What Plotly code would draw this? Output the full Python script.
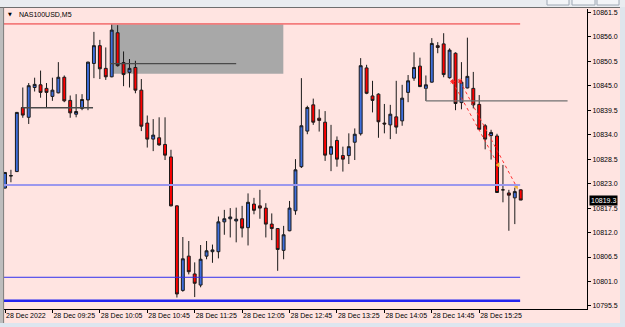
import plotly.graph_objects as go

# ---------------- data ----------------
opens = [10822.0, 10824.7, 10825.7, 10840.1, 10837.9, 10844.6, 10845.2, 10844.4, 10842.6, 10843.4,
         10846.9, 10841.7, 10838.6, 10839.9, 10841.8, 10850.0, 10854.0, 10848.9, 10847.0, 10856.9,
         10850.2, 10848.0, 10849.1, 10844.0, 10836.6, 10833.0, 10833.3, 10831.8, 10829.0, 10818.0,
         10799.0, 10806.7, 10802.7, 10800.2, 10806.7, 10807.7, 10807.7, 10814.4, 10815.1, 10814.6,
         10815.1, 10813.1, 10818.4, 10818.0, 10817.5, 10813.9, 10812.9, 10808.0, 10812.4, 10816.9,
         10826.8, 10834.8, 10840.7, 10837.7, 10836.8, 10829.6, 10832.7, 10829.3, 10829.3, 10832.3,
         10834.2, 10849.0, 10842.7, 10843.1, 10836.6, 10836.2, 10838.0, 10837.1, 10843.5, 10846.7,
         10849.4, 10844.4, 10845.8, 10854.0, 10854.4, 10846.8, 10852.3, 10841.2, 10844.5, 10844.4,
         10840.8, 10836.0, 10833.8, 10833.7, 10821.6, 10820.9, 10819.8, 10821.6]
highs = [10825.6, 10826.1, 10839.1, 10844.6, 10845.6, 10846.8, 10848.4, 10845.6, 10846.8, 10850.3,
         10847.3, 10842.8, 10843.1, 10843.1, 10850.4, 10857.1, 10855.3, 10853.6, 10858.9, 10858.6,
         10852.7, 10851.0, 10850.6, 10846.5, 10838.3, 10837.5, 10837.9, 10837.9, 10830.6, 10818.1,
         10811.0, 10810.1, 10805.3, 10809.2, 10810.1, 10809.3, 10815.6, 10817.1, 10817.5, 10817.6,
         10818.0, 10820.8, 10819.8, 10821.6, 10818.6, 10816.3, 10812.9, 10813.5, 10819.1, 10828.5,
         10846.7, 10840.5, 10842.1, 10839.7, 10839.3, 10836.2, 10833.6, 10831.3, 10834.3, 10835.4,
         10851.2, 10849.7, 10846.1, 10843.3, 10840.9, 10840.7, 10846.1, 10845.2, 10847.4, 10852.5,
         10851.3, 10847.3, 10855.7, 10854.8, 10856.8, 10853.4, 10852.5, 10850.3, 10855.8, 10848.1,
         10842.9, 10836.4, 10835.1, 10834.2, 10827.2, 10821.6, 10822.1, 10821.7]
lows = [10821.9, 10823.3, 10825.6, 10837.8, 10836.4, 10843.7, 10842.3, 10840.1, 10841.6, 10843.3,
        10841.3, 10837.8, 10837.9, 10839.5, 10839.5, 10846.7, 10846.5, 10846.3, 10846.9, 10849.3,
        10844.9, 10844.6, 10843.3, 10834.8, 10831.1, 10830.3, 10831.5, 10828.3, 10817.9, 10797.4,
        10798.7, 10802.6, 10797.5, 10799.7, 10806.0, 10805.2, 10806.2, 10811.5, 10810.9, 10809.8,
        10810.9, 10809.1, 10816.1, 10815.1, 10810.9, 10810.3, 10803.4, 10806.0, 10812.3, 10816.0,
        10826.5, 10834.1, 10836.2, 10834.7, 10828.1, 10825.8, 10826.8, 10825.7, 10827.4, 10828.3,
        10833.8, 10843.1, 10839.0, 10833.3, 10834.3, 10833.0, 10834.2, 10836.0, 10841.3, 10846.1,
        10844.7, 10841.6, 10845.7, 10852.3, 10846.9, 10846.6, 10839.5, 10839.7, 10844.4, 10839.9,
        10835.0, 10830.7, 10828.4, 10820.9, 10818.8, 10812.4, 10813.9, 10819.3]
closes = [10825.5, 10824.8, 10839.0, 10838.4, 10845.0, 10845.3, 10843.5, 10843.5, 10844.0, 10846.9,
          10841.6, 10838.9, 10839.2, 10841.9, 10850.3, 10854.0, 10848.8, 10847.0, 10857.5, 10849.5,
          10847.5, 10848.9, 10844.0, 10835.9, 10833.0, 10833.9, 10831.7, 10829.4, 10818.0, 10798.2,
          10806.1, 10803.2, 10800.6, 10806.0, 10807.9, 10808.1, 10814.4, 10815.1, 10815.5, 10815.0,
          10813.0, 10818.8, 10817.0, 10817.5, 10813.9, 10812.9, 10808.2, 10811.5, 10817.5, 10826.1,
          10836.0, 10840.1, 10836.8, 10837.2, 10829.4, 10831.3, 10828.5, 10828.5, 10831.3, 10834.1,
          10849.5, 10843.3, 10841.7, 10836.9, 10836.4, 10838.6, 10835.7, 10842.2, 10846.1, 10849.1,
          10844.8, 10845.2, 10854.5, 10853.6, 10847.5, 10853.0, 10841.0, 10845.8, 10847.1, 10840.7,
          10835.2, 10833.0, 10834.5, 10821.0, 10821.6, 10820.4, 10821.2, 10819.3]
bar_index = list(range(len(opens)))

time_tick_index = [0, 8, 16, 24, 32, 40, 48, 56, 64, 72, 80]
time_tick_text = ["28 Dec 2022", "28 Dec 09:25", "28 Dec 10:05", "28 Dec 10:45", "28 Dec 11:25",
                  "28 Dec 12:05", "28 Dec 12:45", "28 Dec 13:25", "28 Dec 14:05", "28 Dec 14:45",
                  "28 Dec 15:25"]
price_ticks = [10795.5, 10801.0, 10806.5, 10812.0, 10817.5, 10823.0, 10828.5, 10834.0,
               10839.5, 10845.0, 10850.5, 10856.0, 10861.5]

# drawn objects (price levels and bar index spans)
resistance_level = 10858.9
zone_top, zone_bottom = 10858.9, 10847.7
zone_start, zone_end = 18.0, 46.95
zone_mid_level, zone_mid_end = 10849.95, 39.0
left_level, left_start, left_end = 10840.05, 2.9, 14.85
right_level, right_start, right_end = 10841.6, 71.0, 94.9
lavender_level = 10822.7
support_level = 10801.95
bottom_level = 10796.7
lines_end = 86.9

trade_entry_x = [75.5, 76.75]
trade_entry_price = [10845.9, 10846.05]
trade_exit_x = [83.2, 86.3]
trade_exit_price = [10827.2, 10822.3]

last_price = 10819.3
symbol_title = "NAS100USD,M5"

# ---------------- figure ----------------
FONT = "Tahoma, 'Liberation Sans', Arial, sans-serif"
BG = "#ffe4e1"
W, H = 625, 327
ML, MR, MT, MB = 4, 38, 9, 18
x_range = [-0.169, 98.18]
y_range = [10794.82, 10862.24]

fig = go.Figure()

fig.add_trace(go.Candlestick(
    x=bar_index, open=opens, high=highs, low=lows, close=closes,
    increasing=dict(line=dict(color="#1a1a1a", width=1), fillcolor="#3f6fdc"),
    decreasing=dict(line=dict(color="#1a1a1a", width=1), fillcolor="#ff0000"),
    whiskerwidth=0, showlegend=False, hoverinfo="skip",
))

# trade lines
for ex, ep, xx, xp in zip(trade_entry_x, trade_entry_price, trade_exit_x, trade_exit_price):
    fig.add_trace(go.Scatter(x=[ex, xx], y=[ep, xp], mode="lines",
                             line=dict(color="#ff3030", width=1, dash="dot"),
                             showlegend=False, hoverinfo="skip"))
fig.add_trace(go.Scatter(x=trade_entry_x, y=trade_entry_price, mode="markers",
                         marker=dict(symbol="asterisk-open", size=4, color="#ff2020",
                                     line=dict(color="#ff2020", width=1)),
                         showlegend=False, hoverinfo="skip"))
fig.add_trace(go.Scatter(x=trade_exit_x, y=trade_exit_price, mode="markers",
                         marker=dict(symbol="triangle-left", size=5, color="#f0b030"),
                         showlegend=False, hoverinfo="skip"))

shapes = []
# gray zone (background)
shapes.append(dict(type="rect", xref="x", yref="y", x0=zone_start, x1=zone_end,
                   y0=zone_bottom, y1=zone_top, fillcolor="#a8a8a8",
                   line=dict(width=0), layer="below"))
# horizontal lines
def hline(y, x0, x1, color, width):
    shapes.append(dict(type="line", xref="x", yref="y", x0=x0, x1=x1, y0=y, y1=y,
                       line=dict(color=color, width=width), layer="above"))

hline(resistance_level, x_range[0], lines_end, "#f47c7c", 1.6)
hline(zone_mid_level, zone_start - 0.3, zone_mid_end, "#4a4a4a", 1.3)
hline(left_level, left_start, left_end, "#4a4a4a", 1.3)
hline(right_level, right_start, right_end, "#707070", 1.3)
hline(lavender_level, x_range[0], lines_end, "#9c98ee", 2)
hline(support_level, x_range[0], lines_end, "#3030ee", 1)
hline(bottom_level, x_range[0], lines_end, "#2323f0", 2.5)
shapes.append(dict(type="line", xref="x", yref="y", x0=right_start, x1=right_start,
                   y0=right_level, y1=10844.4, line=dict(color="#707070", width=1.3)))

# window chrome (paper coords)
def px(xpix):
    return (xpix - ML) / (W - ML - MR)

def py(ypix):
    return (H - MB - ypix) / (H - MT - MB)

chrome = [
    (0, 0, 3.3, H, "#bdbdbd"),
    (620, 0, W, H, "#dfe5ec"),
    (0, 0, W, 7, "#e9ecf0"),
    (0, 323, W, H, "#dde6ef"),
]
for x0, y0, x1, y1, c in chrome:
    shapes.append(dict(type="rect", xref="paper", yref="paper", x0=px(x0), x1=px(x1),
                       y0=py(y1), y1=py(y0), fillcolor=c, line=dict(width=0), layer="above"))
shapes.append(dict(type="line", xref="paper", yref="paper", x0=px(0), x1=px(620),
                   y0=py(7.5), y1=py(7.5), line=dict(color="#6e6e6e", width=1)))
shapes.append(dict(type="line", xref="paper", yref="paper", x0=px(3.6), x1=px(3.6),
                   y0=py(323), y1=py(7.5), line=dict(color="#7a7a7a", width=1)))
for bx0, bx1 in [(547, 569), (572, 595), (597, 619)]:
    shapes.append(dict(type="rect", xref="paper", yref="paper", x0=px(bx0), x1=px(bx1),
                       y0=py(5), y1=py(-2), fillcolor="#f3f5f8",
                       line=dict(color="#9ea8b4", width=1)))

annotations = [
    dict(xref="paper", yref="paper", x=px(16.5), y=py(14.5), xanchor="left", yanchor="middle",
         text=symbol_title, showarrow=False, font=dict(family=FONT, size=7, color="#000000")),
    dict(xref="paper", yref="paper", x=px(10), y=py(14.5), xanchor="center", yanchor="middle",
         text="▼", showarrow=False, font=dict(family="DejaVu Sans", size=5, color="#000000")),
    dict(xref="paper", yref="y", x=px(589), y=last_price, xanchor="left", yanchor="middle",
         text=f"{last_price:.1f}", showarrow=False, bgcolor="#000000", borderpad=1,
         font=dict(family=FONT, size=7, color="#ffffff")),
]

fig.update_layout(
    width=W, height=H,
    margin=dict(l=ML, r=MR, t=MT, b=MB, pad=0, autoexpand=False),
    paper_bgcolor=BG, plot_bgcolor=BG,
    font=dict(family=FONT, size=7, color="#000000"),
    shapes=shapes, annotations=annotations, showlegend=False,
    xaxis=dict(range=x_range, rangeslider=dict(visible=False), showgrid=False, zeroline=False,
               tickmode="array", tickvals=time_tick_index, ticktext=time_tick_text,
               ticks="outside", ticklen=3, tickcolor="#000000", tickwidth=1,
               ticklabelposition="outside right", tickangle=0,
               showline=True, linecolor="#000000", linewidth=1,
               tickfont=dict(family=FONT, size=7, color="#000000")),
    yaxis=dict(range=y_range, side="right", showgrid=False, zeroline=False,
               tickmode="array", tickvals=price_ticks,
               ticktext=[f"{v:.1f}" for v in price_ticks],
               ticks="outside", ticklen=3, tickcolor="#000000", tickwidth=1,
               showline=True, linecolor="#000000", linewidth=1,
               tickfont=dict(family=FONT, size=7, color="#000000")),
)

fig.write_html("out.html")
